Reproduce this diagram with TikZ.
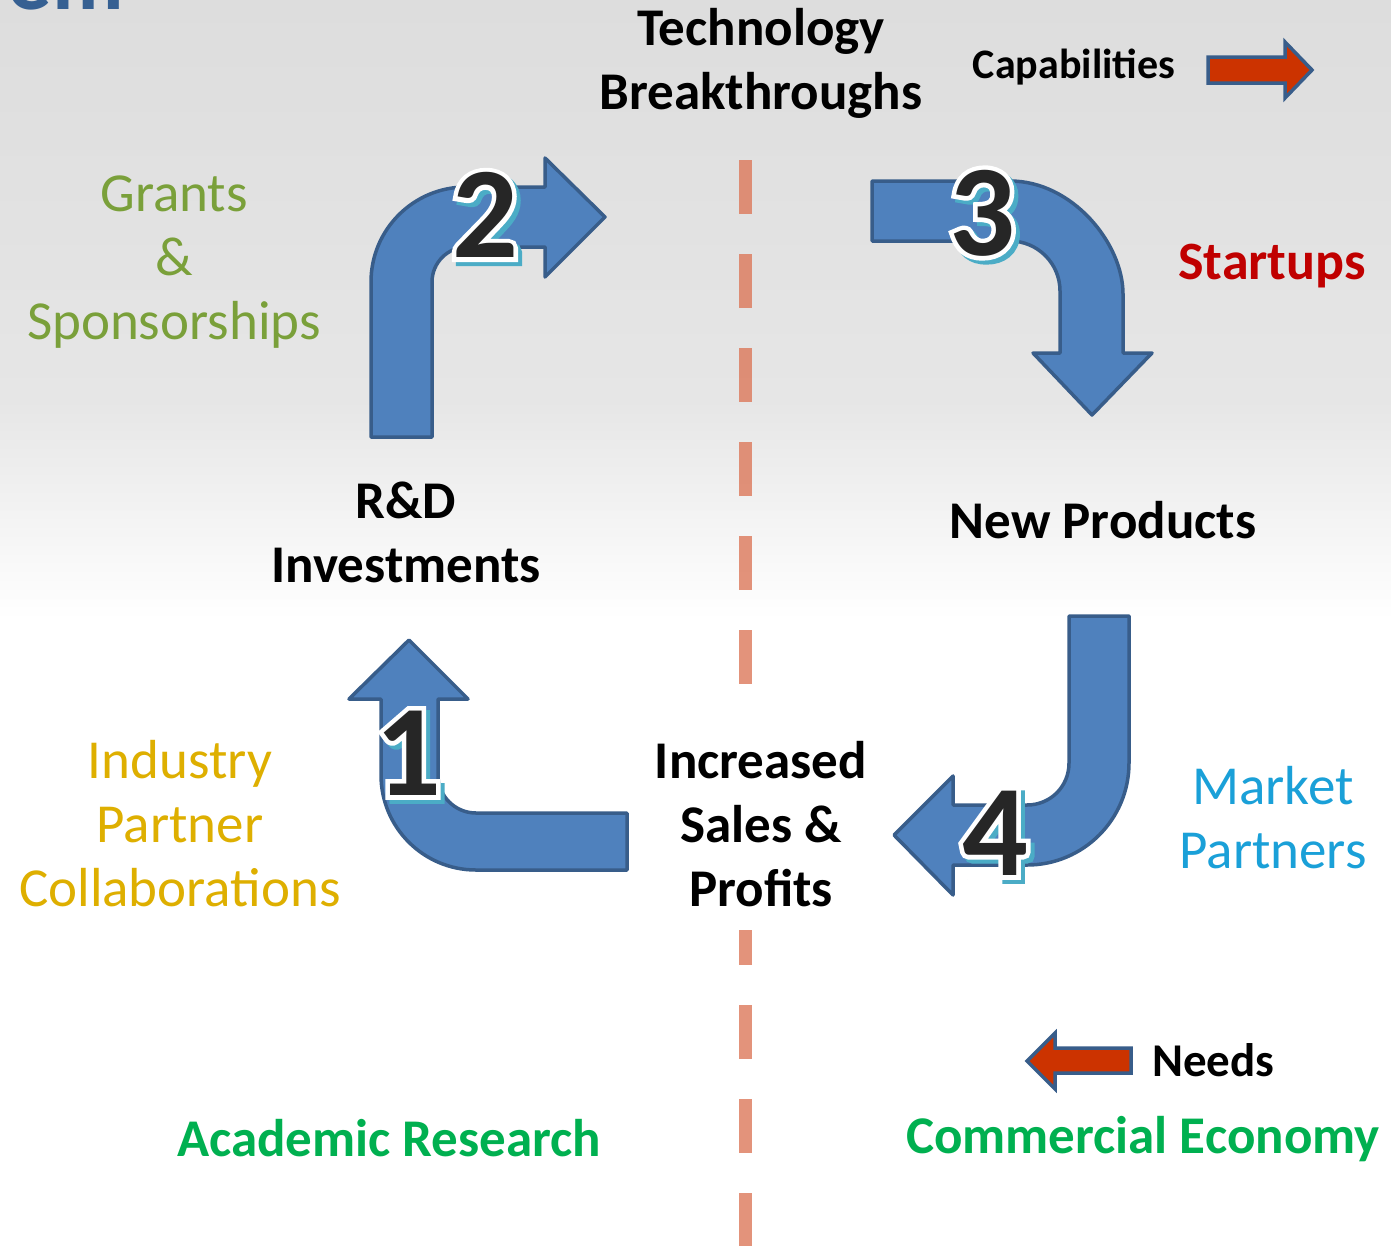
\documentclass[tikz,border=0pt]{standalone}
\usepackage{fontspec}
\setmainfont{Carlito}
\newfontface\numoutline[FakeBold=7]{Carlito Bold}
\usetikzlibrary{shadings}
\definecolor{arrfill}{RGB}{79,129,189}
\definecolor{arrline}{RGB}{56,93,138}
\definecolor{dashcol}{RGB}{220,120,90}
\definecolor{grantcol}{RGB}{122,160,58}
\definecolor{startcol}{RGB}{192,0,0}
\definecolor{marketcol}{RGB}{26,160,216}
\definecolor{indcol}{RGB}{222,175,0}
\definecolor{econcol}{RGB}{0,176,80}
\definecolor{titlecol}{RGB}{54,96,146}
\definecolor{legred}{RGB}{204,51,0}
\definecolor{numshadow}{RGB}{75,172,198}
\definecolor{numblack}{RGB}{38,38,38}
\definecolor{bggray}{RGB}{221,221,221}
\definecolor{bggray2}{RGB}{230,230,230}
\tikzset{
  bigarrow/.style={fill=arrfill, draw=arrline, line width=3.5pt, line join=round},
  legarrow/.style={fill=legred, draw=arrline, line width=3.5pt, line join=miter},
  divider/.style={dashcol, opacity=0.8, line width=13pt, dash pattern=on 54pt off 40pt},
  blk/.style={inner sep=0pt, align=center, text=black, font=\bfseries\fontsize{53}{64}\selectfont},
  legtxt/.style={inner sep=0pt, text=black, font=\bfseries\fontsize{42}{50}\selectfont},
  sidetxt/.style={inner sep=0pt, align=center, font=\fontsize{55}{64}\selectfont},
  econtxt/.style={inner sep=0pt, text=econcol, font=\bfseries\fontsize{53}{60}\selectfont},
  numtxt/.style={inner sep=0pt, font=\bfseries\fontsize{130}{130}\selectfont},
  numline/.style={inner sep=0pt, font=\numoutline\fontsize{130}{130}\selectfont}
}
\newcommand{\drawnum}[4]{%
  \node[numline, text=numshadow] (#1s) at (#2+4,#3+4) {#4};
  \node[numline, text=white] (#1w) at (#2,#3) {#4};
  \node[numtxt, text=numblack] (#1) at (#2,#3) {#4};
}
\begin{document}
\begin{tikzpicture}[x=1pt, y=-1pt]
\useasboundingbox (0,0) rectangle (1391,1245);
% background
\fill[white] (0,0) rectangle (1391,1245);
\shade[top color=bggray, bottom color=bggray2] (0,0) rectangle (1391,400);
\shade[top color=bggray2, bottom color=white] (0,400) rectangle (1391,620);
% title fragment
\begin{scope}
\clip (0,0) rectangle (1391,1245);
\node[anchor=base east, inner sep=0pt, text=titlecol, font=\bfseries\fontsize{88}{88}\selectfont] (title) at (124,9) {em};
\end{scope}
% divider
\coordinate (d1a) at (745,160);
\coordinate (d1b) at (745,690);
\coordinate (d2a) at (745,930);
\coordinate (d2b) at (745,1250);
\draw[divider] (d1a) -- (d1b);
\draw[divider, dash phase=19pt] (d2a) -- (d2b);
% arrow 2
\draw[bigarrow] (371,437) -- (432,437) -- (432,282) .. controls (432,262.7) and (447.7,247) .. (467,247)
  -- (545,247) -- (545,277) -- (605,217) -- (545,158) -- (545,187) -- (466,187)
  .. controls (413.5,187) and (371,229.5) .. (371,282) -- cycle;
% arrow 3
\draw[bigarrow] (872,181) -- (1010,181) .. controls (1072.4,181) and (1123,243.6) .. (1123,294)
  -- (1123,353) -- (1152,353) -- (1092,415) -- (1033,353) -- (1060,353) -- (1060,291)
  .. controls (1060,263.4) and (1037.6,241) .. (1010,241) -- (872,241) -- cycle;
% arrow 4
\draw[bigarrow] (1069,616) -- (1129,616) -- (1129,763) .. controls (1129,819.3) and (1083.3,865) .. (1027,865)
  -- (953,865) -- (953,895) -- (894,835) -- (953,776) -- (953,805) -- (1027,805)
  .. controls (1050.2,805) and (1069,786.8) .. (1069,763) -- cycle;
% arrow 1
\draw[bigarrow] (627,813) -- (476,813) .. controls (455,813) and (438,796) .. (438,775)
  -- (438,699) -- (468,699) -- (409,640) -- (349,699) -- (381,699) -- (381,775)
  .. controls (381,827.5) and (423.5,870) .. (476,870) -- (627,870) -- cycle;
% numbers
\drawnum{n2}{485}{215}{2}
\drawnum{n3}{982}{213}{3}
\drawnum{n4}{995}{833}{4}
\drawnum{n1}{408}{753}{1}
% legend arrows
\draw[legarrow] (1208,57) -- (1285,57) -- (1285,42) -- (1312,70) -- (1285,98) -- (1285,83) -- (1208,83) -- cycle;
\draw[legarrow] (1131,1048) -- (1055,1048) -- (1055,1033) -- (1027,1061) -- (1055,1089) -- (1055,1073) -- (1131,1073) -- cycle;
% texts
\node[blk] (tech) at (761,63) {Technology\\Breakthroughs};
\node[legtxt] (cap) at (1074,67) {Capabilities};
\node[legtxt, anchor=west, font=\bfseries\fontsize{47}{50}\selectfont] (needs) at (1152,1060) {Needs};
\node[blk] (rd) at (406,532) {R\&D\\Investments};
\node[blk] (newp) at (1103,520) {New Products};
\node[blk] (sales) at (761,824) {Increased\\Sales \&\\Profits};
\node[sidetxt, text=grantcol] (grants) at (174,262) {Grants\\\&\\Sponsorships};
\node[sidetxt, text=startcol, font=\bfseries\fontsize{54}{60}\selectfont] (startups) at (1272,266) {Startups};
\node[sidetxt, text=indcol] (industry) at (180,824) {Industry\\Partner\\Collaborations};
\node[sidetxt, text=marketcol] (market) at (1273,818) {Market\\Partners};
\node[econtxt] (acad) at (389,1138) {Academic Research};
\node[econtxt] (comm) at (1143,1139) {Commercial Economy};
\end{tikzpicture}
\end{document}
